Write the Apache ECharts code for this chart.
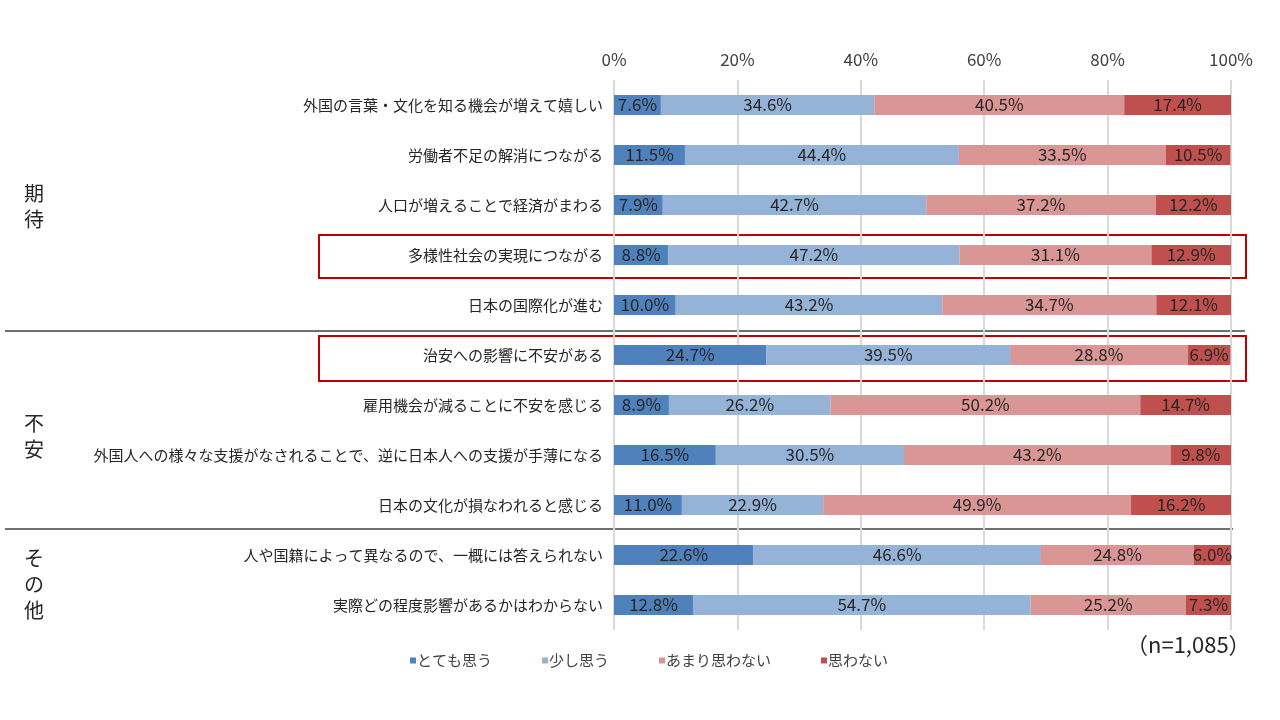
<!DOCTYPE html>
<html>
<head>
<meta charset="utf-8">
<script src="https://cdn.jsdelivr.net/npm/echarts@6/dist/echarts.min.js"></script>
<style>
  html, body { margin: 0; padding: 0; background: #fff; }
  #container { width: 1280px; height: 720px; }
</style>
</head>
<body>
<div id="container"></div>
<script>
const categories = [
  "外国の言葉・文化を知る機会が増えて嬉しい",
  "労働者不足の解消につながる",
  "人口が増えることで経済がまわる",
  "多様性社会の実現につながる",
  "日本の国際化が進む",
  "治安への影響に不安がある",
  "雇用機会が減ることに不安を感じる",
  "外国人への様々な支援がなされることで、逆に日本人への支援が手薄になる",
  "日本の文化が損なわれると感じる",
  "人や国籍によって異なるので、一概には答えられない",
  "実際どの程度影響があるかはわからない"
];
const totemo = [7.6, 11.5, 7.9, 8.8, 10.0, 24.7, 8.9, 16.5, 11.0, 22.6, 12.8];
const sukoshi = [34.6, 44.4, 42.7, 47.2, 43.2, 39.5, 26.2, 30.5, 22.9, 46.6, 54.7];
const amari = [40.5, 33.5, 37.2, 31.1, 34.7, 28.8, 50.2, 43.2, 49.9, 24.8, 25.2];
const omowanai = [17.4, 10.5, 12.2, 12.9, 12.1, 6.9, 14.7, 9.8, 16.2, 6.0, 7.3];
const seriesNames = ["とても思う", "少し思う", "あまり思わない", "思わない"];
const colors = ["#4F81BD", "#95B3D7", "#DA9694", "#C0504D"];

const dom = document.getElementById("container");
const myChart = echarts.init(dom, null, { renderer: "canvas" });

function makeSeries(name, values) {
  return {
    name: name,
    type: "bar",
    stack: "total",
    barWidth: 20,
    data: values,
    label: {
      show: true,
      position: "inside",
      formatter: (p) => p.value.toFixed(1) + "%",
      color: "#262626",
      fontSize: 17,
      fontFamily: "Noto Sans CJK JP"
    }
  };
}

const option = {
  animation: false,
  color: colors,
  textStyle: { fontFamily: "Noto Sans CJK JP" },
  grid: { left: 614, right: 49, top: 80, bottom: 90 },
  legend: {
    left: 405,
    top: 648,
    itemWidth: 6,
    itemHeight: 6,
    itemGap: 50,
    icon: "rect",
    textStyle: { fontSize: 15, color: "#404040", padding: [0, 0, 0, -4] },
    data: seriesNames
  },
  xAxis: {
    type: "value",
    position: "top",
    min: 0,
    max: 100,
    interval: 20,
    axisLine: { show: false },
    axisTick: { show: false },
    axisLabel: { formatter: "{value}%", fontSize: 17, color: "#404040", margin: 12 },
    splitLine: { lineStyle: { color: "#d9d9d9", width: 2 } }
  },
  yAxis: {
    type: "category",
    inverse: true,
    data: categories,
    axisLine: { show: false },
    axisTick: { show: false },
    axisLabel: { fontSize: 15, color: "#262626", margin: 11 }
  },
  series: [
    makeSeries(seriesNames[0], totemo),
    makeSeries(seriesNames[1], sukoshi),
    makeSeries(seriesNames[2], amari),
    makeSeries(seriesNames[3], omowanai)
  ],
  graphic: [
    { type: "line", shape: { x1: 5, y1: 331, x2: 1245, y2: 331 }, style: { stroke: "#404040", lineWidth: 1.5 } },
    { type: "line", shape: { x1: 5, y1: 529, x2: 1233, y2: 529 }, style: { stroke: "#404040", lineWidth: 1.5 } },
    { type: "rect", shape: { x: 319, y: 235, width: 927, height: 43 }, style: { fill: "none", stroke: "#C00000", lineWidth: 2 } },
    { type: "rect", shape: { x: 319, y: 336, width: 927, height: 45 }, style: { fill: "none", stroke: "#C00000", lineWidth: 2 } },
    { type: "text", left: 24, top: 180, style: { text: "期\n待", fontSize: 20, lineHeight: 26, fill: "#262626", fontFamily: "Noto Sans CJK JP" } },
    { type: "text", left: 24, top: 410, style: { text: "不\n安", fontSize: 20, lineHeight: 26, fill: "#262626", fontFamily: "Noto Sans CJK JP" } },
    { type: "text", left: 24, top: 545, style: { text: "そ\nの\n他", fontSize: 20, lineHeight: 26, fill: "#262626", fontFamily: "Noto Sans CJK JP" } },
    { type: "text", left: 1126, top: 634, style: { text: "（n=1,085）", fontSize: 22, fill: "#262626", fontFamily: "Noto Sans CJK JP" } }
  ]
};

myChart.setOption(option);
window.addEventListener("resize", myChart.resize);
</script>
</body>
</html>
